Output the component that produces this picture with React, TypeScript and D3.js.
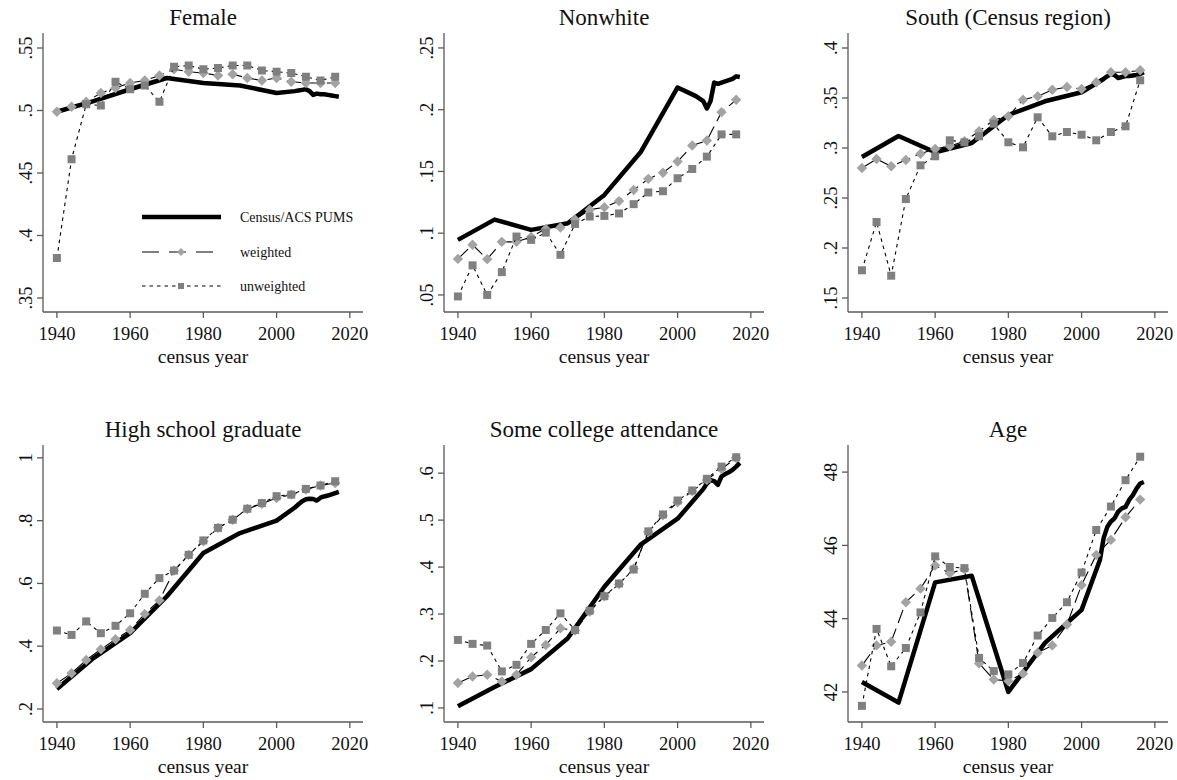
import React from 'react';
import * as d3 from 'd3';

// survey years (every 4 years) and census / ACS years
const surveyYears = [1940, 1944, 1948, 1952, 1956, 1960, 1964, 1968, 1972, 1976, 1980, 1984, 1988, 1992, 1996, 2000, 2004, 2008, 2012, 2016];
const censusYears = [1940, 1950, 1960, 1970, 1980, 1990, 2000, 2005, 2006, 2007, 2008, 2009, 2010, 2011, 2012, 2013, 2014, 2015, 2016, 2017];
const xTicks = [1940, 1960, 1980, 2000, 2020];

// Female
const femaleCensus = [0.499, 0.5075, 0.517, 0.526, 0.522, 0.52, 0.514, 0.5155, 0.516, 0.5165, 0.517, 0.5155, 0.5125, 0.5135, 0.513, 0.513, 0.5125, 0.512, 0.5115, 0.511];
const femaleWeighted = [0.499, 0.503, 0.507, 0.514, 0.518, 0.522, 0.524, 0.528, 0.533, 0.531, 0.53, 0.528, 0.529, 0.526, 0.524, 0.526, 0.523, 0.522, 0.522, 0.522];
const femaleUnweighted = [0.382, 0.461, 0.505, 0.504, 0.523, 0.517, 0.52, 0.507, 0.535, 0.536, 0.533, 0.534, 0.536, 0.536, 0.532, 0.531, 0.53, 0.527, 0.524, 0.527];
const femaleTicks = [0.35, 0.4, 0.45, 0.5, 0.55];
const femaleTickLabels = ['.35', '.4', '.45', '.5', '.55'];

// Nonwhite
const nonwhiteCensus = [0.0946, 0.111, 0.1027, 0.108, 0.131, 0.166, 0.218, 0.211, 0.209, 0.207, 0.201, 0.207, 0.222, 0.221, 0.222, 0.223, 0.224, 0.225, 0.227, 0.2265];
const nonwhiteWeighted = [0.0792, 0.0906, 0.079, 0.093, 0.093, 0.097, 0.1035, 0.1046, 0.111, 0.119, 0.121, 0.126, 0.135, 0.144, 0.149, 0.158, 0.171, 0.175, 0.198, 0.208];
const nonwhiteUnweighted = [0.0488, 0.074, 0.05, 0.0685, 0.0973, 0.0946, 0.1005, 0.0825, 0.1075, 0.1135, 0.114, 0.116, 0.1235, 0.133, 0.134, 0.1445, 0.152, 0.162, 0.18, 0.18];
const nonwhiteTicks = [0.05, 0.1, 0.15, 0.2, 0.25];
const nonwhiteTickLabels = ['.05', '.1', '.15', '.2', '.25'];

// South
const southCensus = [0.291, 0.312, 0.2957, 0.305, 0.333, 0.3467, 0.3557, 0.3667, 0.369, 0.3717, 0.374, 0.373, 0.37, 0.371, 0.372, 0.372, 0.3725, 0.373, 0.374, 0.3757];
const southWeighted = [0.28, 0.289, 0.2817, 0.288, 0.2943, 0.299, 0.302, 0.3067, 0.3167, 0.328, 0.3317, 0.3483, 0.3517, 0.3583, 0.361, 0.359, 0.3657, 0.3757, 0.3757, 0.3777];
const southUnweighted = [0.1777, 0.226, 0.1723, 0.249, 0.2827, 0.2917, 0.3077, 0.3057, 0.3117, 0.3243, 0.3057, 0.3007, 0.3307, 0.3117, 0.316, 0.3133, 0.3077, 0.316, 0.3217, 0.3677];
const southTicks = [0.15, 0.2, 0.25, 0.3, 0.35, 0.4];
const southTickLabels = ['.15', '.2', '.25', '.3', '.35', '.4'];

// High school graduate
const hsCensus = [0.264, 0.362, 0.4415, 0.5585, 0.697, 0.7606, 0.8, 0.842, 0.852, 0.862, 0.868, 0.87, 0.869, 0.864, 0.873, 0.877, 0.88, 0.884, 0.888, 0.892];
const hsWeighted = [0.282, 0.314, 0.356, 0.39, 0.422, 0.452, 0.503, 0.546, 0.641, 0.691, 0.734, 0.777, 0.803, 0.837, 0.854, 0.872, 0.883, 0.899, 0.912, 0.92];
const hsUnweighted = [0.45, 0.436, 0.479, 0.4415, 0.465, 0.505, 0.567, 0.617, 0.641, 0.691, 0.737, 0.777, 0.803, 0.838, 0.856, 0.878, 0.883, 0.901, 0.912, 0.9255];
const hsTicks = [0.2, 0.4, 0.6, 0.8, 1];
const hsTickLabels = ['.2', '.4', '.6', '.8', '1'];

// Some college attendance
const collegeCensus = [0.1034, 0.1444, 0.1826, 0.2484, 0.358, 0.4485, 0.503, 0.548, 0.557, 0.566, 0.578, 0.585, 0.583, 0.575, 0.593, 0.598, 0.602, 0.607, 0.614, 0.622];
const collegeWeighted = [0.153, 0.167, 0.1706, 0.1564, 0.1706, 0.208, 0.234, 0.2696, 0.265, 0.305, 0.338, 0.3636, 0.397, 0.4747, 0.51, 0.538, 0.5617, 0.5857, 0.609, 0.6324];
const collegeUnweighted = [0.2448, 0.2364, 0.2328, 0.1777, 0.1918, 0.2364, 0.266, 0.3014, 0.266, 0.307, 0.338, 0.365, 0.3948, 0.476, 0.512, 0.5418, 0.563, 0.588, 0.614, 0.6338];
const collegeTicks = [0.1, 0.2, 0.3, 0.4, 0.5, 0.6];
const collegeTickLabels = ['.1', '.2', '.3', '.4', '.5', '.6'];

// Age
const ageCensus = [42.27, 41.71, 44.99, 45.17, 42.0, 43.34, 44.24, 45.6, 46.19, 46.5, 46.65, 46.74, 46.92, 47.01, 47.05, 47.24, 47.37, 47.55, 47.69, 47.73];
const ageWeighted = [42.72, 43.27, 43.37, 44.45, 44.82, 45.45, 45.24, 45.35, 42.78, 42.34, 42.3, 42.5, 43.07, 43.27, 43.84, 44.92, 45.74, 46.15, 46.77, 47.25];
const ageUnweighted = [41.62, 43.72, 42.7, 43.2, 44.17, 45.7, 45.41, 45.38, 42.93, 42.57, 42.48, 42.79, 43.54, 44.02, 44.45, 45.26, 46.42, 47.06, 47.78, 48.42];
const ageTicks = [42, 44, 46, 48];
const ageTickLabels = ['42', '44', '46', '48'];

const legendLabels = ['Census/ACS PUMS', 'weighted', 'unweighted'];

const FONT = '"Liberation Serif", "Times New Roman", serif';
const AXIS = '#5a5a5a';
const DIAMOND = '#a3a3a3';
const SQUARE = '#808080';

interface PanelDef {
  title: string;
  census: number[];
  weighted: number[];
  unweighted: number[];
  ticks: number[];
  tickLabels: string[];
  domain: [number, number];
  left: number;
  top: number;
  bottom: number;
  legend?: boolean;
}

const panels: PanelDef[] = [
  { title: 'Female', census: femaleCensus, weighted: femaleWeighted, unweighted: femaleUnweighted, ticks: femaleTicks, tickLabels: femaleTickLabels, domain: [0.3388, 0.562], left: 43, top: 33, bottom: 312, legend: true },
  { title: 'Nonwhite', census: nonwhiteCensus, weighted: nonwhiteWeighted, unweighted: nonwhiteUnweighted, ticks: nonwhiteTicks, tickLabels: nonwhiteTickLabels, domain: [0.0362, 0.2621], left: 444, top: 33, bottom: 312 },
  { title: 'South (Census region)', census: southCensus, weighted: southWeighted, unweighted: southUnweighted, ticks: southTicks, tickLabels: southTickLabels, domain: [0.136, 0.415], left: 848, top: 33, bottom: 312 },
  { title: 'High school graduate', census: hsCensus, weighted: hsWeighted, unweighted: hsUnweighted, ticks: hsTicks, tickLabels: hsTickLabels, domain: [0.1586, 1.041], left: 43, top: 445, bottom: 722 },
  { title: 'Some college attendance', census: collegeCensus, weighted: collegeWeighted, unweighted: collegeUnweighted, ticks: collegeTicks, tickLabels: collegeTickLabels, domain: [0.07, 0.66], left: 444, top: 445, bottom: 722 },
  { title: 'Age', census: ageCensus, weighted: ageWeighted, unweighted: ageUnweighted, ticks: ageTicks, tickLabels: ageTickLabels, domain: [41.18, 48.74], left: 848, top: 445, bottom: 722 },
];

const PLOT_W = 320;

const Diamond: React.FC<{ x: number; y: number; r: number }> = ({ x, y, r }) => (
  <path d={`M${x},${y - r}L${x + r},${y}L${x},${y + r}L${x - r},${y}Z`} fill={DIAMOND} />
);

const Square: React.FC<{ x: number; y: number; s: number }> = ({ x, y, s }) => (
  <rect x={x - s / 2} y={y - s / 2} width={s} height={s} fill={SQUARE} />
);

const Panel: React.FC<{ p: PanelDef }> = ({ p }) => {
  const x = d3.scaleLinear().domain([1936.2, 2023.6]).range([p.left, p.left + PLOT_W]);
  const y = d3.scaleLinear().domain(p.domain).range([p.bottom, p.top]);
  const line = d3.line<[number, number]>().x(d => x(d[0])).y(d => y(d[1]));
  const censusPts = censusYears.map((yr, i) => [yr, p.census[i]] as [number, number]);
  const wPts = surveyYears.map((yr, i) => [yr, p.weighted[i]] as [number, number]);
  const uPts = surveyYears.map((yr, i) => [yr, p.unweighted[i]] as [number, number]);
  const cx = p.left + PLOT_W / 2;

  return (
    <g>
      <text x={cx} y={p.top - 8} textAnchor="middle" fontSize={23} fontFamily={FONT} fill="#111">{p.title}</text>

      {/* axes */}
      <line x1={p.left} x2={p.left} y1={p.top} y2={p.bottom} stroke={AXIS} strokeWidth={1.3} />
      <line x1={p.left} x2={p.left + PLOT_W} y1={p.bottom} y2={p.bottom} stroke={AXIS} strokeWidth={1.3} />
      {p.ticks.map((t, i) => (
        <g key={t}>
          <line x1={p.left - 6} x2={p.left} y1={y(t)} y2={y(t)} stroke={AXIS} strokeWidth={1.3} />
          <text transform={`translate(${p.left - 11},${y(t)}) rotate(-90)`} textAnchor="middle" fontSize={18.5} fontFamily={FONT} fill="#111">{p.tickLabels[i]}</text>
        </g>
      ))}
      {xTicks.map(t => (
        <g key={t}>
          <line x1={x(t)} x2={x(t)} y1={p.bottom} y2={p.bottom + 6} stroke={AXIS} strokeWidth={1.3} />
          <text x={x(t)} y={p.bottom + 28} textAnchor="middle" fontSize={18.5} fontFamily={FONT} fill="#111">{t}</text>
        </g>
      ))}
      <text x={cx} y={p.bottom + 51} textAnchor="middle" fontSize={19.5} fontFamily={FONT} fill="#111">census year</text>

      {/* series */}
      <path d={line(censusPts) || ''} fill="none" stroke="#000" strokeWidth={4.5} strokeLinejoin="round" />
      <path d={line(wPts) || ''} fill="none" stroke="#000" strokeWidth={1.1} strokeDasharray="14,6" />
      {wPts.map((d, i) => <Diamond key={i} x={x(d[0])} y={y(d[1])} r={5.2} />)}
      <path d={line(uPts) || ''} fill="none" stroke="#000" strokeWidth={1.1} strokeDasharray="3.5,4" />
      {uPts.map((d, i) => <Square key={i} x={x(d[0])} y={y(d[1])} s={8} />)}

      {p.legend && (
        <g fontFamily={FONT} fontSize={14} fill="#111">
          <line x1={142} x2={221} y1={217} y2={217} stroke="#000" strokeWidth={4.5} />
          <text x={240} y={222}>{legendLabels[0]}</text>
          <line x1={142} x2={221} y1={252} y2={252} stroke="#000" strokeWidth={1.1} strokeDasharray="17,10" />
          <Diamond x={181} y={252} r={4} />
          <text x={240} y={257}>{legendLabels[1]}</text>
          <line x1={142} x2={221} y1={286} y2={286} stroke="#000" strokeWidth={1.1} strokeDasharray="3.5,4" />
          <Square x={181} y={286} s={6} />
          <text x={240} y={291}>{legendLabels[2]}</text>
        </g>
      )}
    </g>
  );
};

export default function App() {
  return (
    <svg width={1177} height={780} style={{ position: 'absolute', left: 0, top: 0, background: '#fff', display: 'block' }}>
      <rect width={1177} height={780} fill="#fff" />
      {panels.map(p => <Panel key={p.title} p={p} />)}
    </svg>
  );
}
